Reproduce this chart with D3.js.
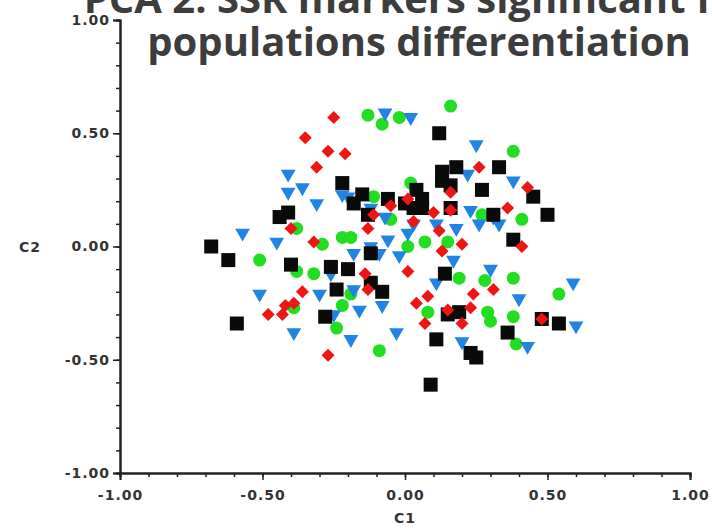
<!DOCTYPE html>
<html>
<head>
<meta charset="utf-8">
<script src="https://cdn.jsdelivr.net/npm/d3@7"></script>
<style>
  body { margin: 0; background: #fff; }
  svg { display: block; }
  .tick text { font-family: "DejaVu Sans", sans-serif; font-weight: bold; font-size: 14px; letter-spacing: 1px; fill: #333; }
</style>
</head>
<body>
<div id="chart"></div>
<script>
// PCA scores (C1, C2) per population group
const blackPts = [
  [-0.68, 0.00], [-0.62, -0.06], [-0.59, -0.34], [-0.44, 0.13], [-0.41, 0.15],
  [-0.40, -0.08], [-0.26, -0.09], [-0.20, -0.10], [-0.24, -0.19], [-0.12, -0.16],
  [-0.08, -0.20], [-0.28, -0.31], [-0.22, 0.28], [-0.15, 0.23], [-0.18, 0.19],
  [-0.13, 0.14], [-0.06, 0.21], [0.00, 0.19], [0.04, 0.25], [0.06, 0.21],
  [0.03, 0.17], [0.06, 0.17], [0.12, 0.50], [0.18, 0.35], [0.13, 0.33],
  [0.13, 0.29], [0.16, 0.27], [0.16, 0.17], [0.33, 0.35], [0.27, 0.25],
  [0.45, 0.22], [0.50, 0.14], [0.31, 0.14], [0.38, 0.03], [0.14, -0.12],
  [0.15, -0.30], [0.19, -0.29], [0.11, -0.41], [0.23, -0.47], [0.25, -0.49],
  [0.09, -0.61], [0.36, -0.38], [0.48, -0.32], [0.54, -0.34], [-0.12, -0.03]
];
const redPts = [
  [-0.25, 0.57], [-0.35, 0.48], [-0.27, 0.42], [-0.21, 0.41], [-0.31, 0.35],
  [-0.40, 0.08], [-0.32, 0.02], [-0.13, 0.08], [-0.11, 0.14], [-0.05, 0.18],
  [0.01, 0.21], [0.03, 0.11], [0.10, 0.15], [0.16, 0.16], [0.16, 0.24],
  [0.26, 0.35], [0.36, 0.17], [0.43, 0.26], [0.12, 0.07], [0.20, 0.01],
  [0.13, -0.02], [0.41, 0.00], [0.01, -0.11], [-0.14, -0.12], [-0.13, -0.19],
  [-0.36, -0.20], [-0.39, -0.25], [-0.42, -0.26], [-0.43, -0.30], [-0.48, -0.30],
  [0.08, -0.22], [0.04, -0.25], [0.24, -0.21], [0.31, -0.19], [0.15, -0.28],
  [0.23, -0.27], [0.07, -0.34], [0.20, -0.34], [0.48, -0.32], [-0.27, -0.48]
];
const greenPts = [
  [-0.13, 0.58], [-0.08, 0.54], [-0.02, 0.57], [0.16, 0.62], [0.38, 0.42],
  [0.02, 0.28], [-0.11, 0.22], [-0.05, 0.12], [-0.38, 0.08], [-0.22, 0.04],
  [-0.19, 0.04], [-0.29, 0.01], [-0.51, -0.06], [-0.38, -0.11], [-0.32, -0.12],
  [0.01, 0.00], [0.07, 0.02], [0.15, 0.02], [0.27, 0.14], [0.41, 0.12],
  [-0.19, -0.21], [-0.22, -0.26], [-0.39, -0.27], [-0.24, -0.36], [-0.09, -0.46],
  [0.19, -0.14], [0.28, -0.15], [0.38, -0.14], [0.54, -0.21], [0.08, -0.29],
  [0.29, -0.29], [0.30, -0.33], [0.38, -0.31], [0.39, -0.43]
];
const bluePts = [
  [-0.41, 0.32], [-0.41, 0.24], [-0.36, 0.26], [-0.31, 0.19], [-0.22, 0.23],
  [-0.57, 0.06], [-0.45, 0.02], [-0.18, -0.03], [-0.07, 0.59], [0.02, 0.57],
  [0.25, 0.45], [0.38, 0.29], [0.22, 0.32], [0.23, 0.16], [0.26, 0.10],
  [0.31, 0.13], [0.33, 0.10], [0.18, 0.08], [0.11, 0.10], [0.03, 0.10],
  [0.01, 0.06], [-0.07, 0.13], [-0.12, 0.17], [-0.20, 0.22], [-0.06, 0.03],
  [-0.12, 0.00], [-0.09, -0.03], [-0.02, -0.04], [0.17, -0.06], [0.30, -0.10],
  [0.11, -0.16], [-0.30, -0.21], [-0.18, -0.19], [-0.16, -0.28], [-0.08, -0.26],
  [-0.25, -0.30], [-0.39, -0.38], [-0.19, -0.41], [-0.03, -0.38], [-0.26, -0.12],
  [-0.51, -0.21], [0.40, -0.23], [0.20, -0.42], [0.59, -0.16], [0.60, -0.35],
  [0.43, -0.44]
];

const majorTicks = [-1, -0.5, 0, 0.5, 1];
const minorTicks = d3.range(-10, 11).map(i => i / 10);
const titleLines = ["PCA 2: SSR markers significant for", "populations differentiation"];
const xLabel = "C1";
const yLabel = "C2";

const width = 712, height = 529;

const svg = d3.select('#chart').append('svg')
    .attr('width', width)
    .attr('height', height);

const x = d3.scaleLinear().domain([-1, 1]).range([120, 690]);
const y = d3.scaleLinear().domain([-1, 1]).range([473, 20]);

// title (first line runs off the top of the picture)
svg.append('text')
    .attr('x', 419)
    .attr('y', 13)
    .attr('text-anchor', 'middle')
    .style('font-family', '"Open Sans", sans-serif')
    .style('font-weight', 'bold')
    .style('font-size', '40px')
    .style('fill', '#3d3d3d')
    .selectAll('tspan')
    .data(titleLines)
    .enter().append('tspan')
    .attr('x', 419)
    .attr('dy', (d, i) => i === 0 ? 0 : 43)
    .text(d => d);

// points
const g = svg.append('g');

g.selectAll('.green')
    .data(greenPts)
    .enter().append('circle')
    .attr('class', 'green')
    .attr('cx', d => x(d[0]))
    .attr('cy', d => y(d[1]))
    .attr('r', 6.5)
    .attr('fill', '#22dd22');

const tri = d3.symbol().type(d3.symbolTriangle).size(95);
g.selectAll('.blue')
    .data(bluePts)
    .enter().append('path')
    .attr('class', 'blue')
    .attr('d', tri)
    .attr('transform', d => `translate(${x(d[0])},${y(d[1])}) rotate(180)`)
    .attr('fill', '#2284e2');

g.selectAll('.black')
    .data(blackPts)
    .enter().append('rect')
    .attr('class', 'black')
    .attr('x', d => x(d[0]) - 7)
    .attr('y', d => y(d[1]) - 7)
    .attr('width', 14)
    .attr('height', 14)
    .attr('fill', '#0a0a0a');

g.selectAll('.red')
    .data(redPts)
    .enter().append('path')
    .attr('class', 'red')
    .attr('d', 'M0,-6.5L6.5,0L0,6.5L-6.5,0Z')
    .attr('transform', d => `translate(${x(d[0])},${y(d[1])})`)
    .attr('fill', '#ee1515');

// axes
const fmt = d => d.toFixed(2);

const xMinor = svg.append('g')
    .attr('transform', `translate(0,${y(-1)})`)
    .call(d3.axisBottom(x).tickValues(minorTicks).tickSize(4).tickFormat(''));
const xAxis = svg.append('g')
    .attr('transform', `translate(0,${y(-1)})`)
    .call(d3.axisBottom(x).tickValues(majorTicks).tickSize(7).tickPadding(10).tickFormat(fmt));

const yMinor = svg.append('g')
    .attr('transform', `translate(${x(-1)},0)`)
    .call(d3.axisLeft(y).tickValues(minorTicks).tickSize(4).tickFormat(''));
const yAxis = svg.append('g')
    .attr('transform', `translate(${x(-1)},0)`)
    .call(d3.axisLeft(y).tickValues(majorTicks).tickSize(7).tickPadding(3).tickFormat(fmt));

[xMinor, xAxis, yMinor, yAxis].forEach(a => {
    a.select('.domain').attr('stroke', '#222').attr('stroke-width', 2);
    a.selectAll('.tick line').attr('stroke', '#222').attr('stroke-width', 1.5);
});

svg.append('text')
    .attr('x', x(0))
    .attr('y', 523)
    .attr('text-anchor', 'middle')
    .style('font-family', '"DejaVu Sans", sans-serif')
    .style('font-weight', 'bold')
    .style('font-size', '14px')
    .style('letter-spacing', '1px')
    .style('fill', '#333')
    .text(xLabel);

svg.append('text')
    .attr('x', 30)
    .attr('y', y(0) + 5)
    .attr('text-anchor', 'middle')
    .style('font-family', '"DejaVu Sans", sans-serif')
    .style('font-weight', 'bold')
    .style('font-size', '14px')
    .style('letter-spacing', '1px')
    .style('fill', '#333')
    .text(yLabel);
</script>
</body>
</html>
